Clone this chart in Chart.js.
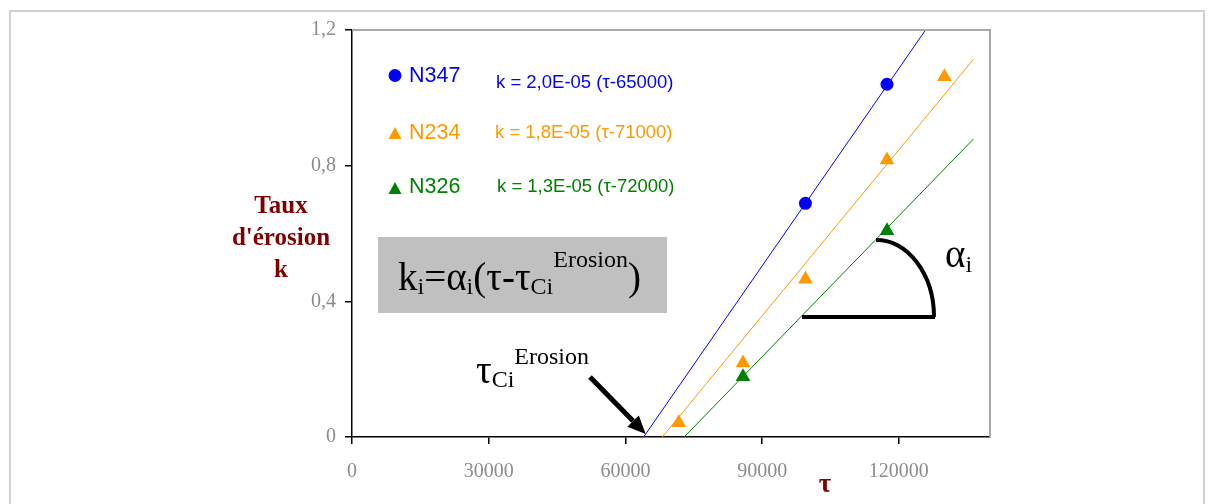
<!DOCTYPE html>
<html>
<head>
<meta charset="utf-8">
<script src="https://cdn.jsdelivr.net/npm/chart.js@4.4.0/dist/chart.umd.min.js"></script>
<style>
  html, body { margin: 0; padding: 0; background: #fff; }
  #wrap { position: relative; width: 1211px; height: 504px; overflow: hidden; }
  #frame {
    position: absolute; left: 9px; top: 10px; width: 1192px; height: 600px;
    border: 2px solid #d0d0d0;
  }
  #erosionChart { position: absolute; left: 0; top: 0; }
</style>
</head>
<body>
<div id="wrap">
  <div id="frame"></div>
  <canvas id="erosionChart" width="1211" height="504"></canvas>
</div>
<script>
// Axis ticks
const tauTicks = [0, 30000, 60000, 90000, 120000];
const kTicks = [0, 0.4, 0.8, 1.2];

// Measured points per sample (tau = shear stress, k = erosion rate)
const sampleNames = ['N347', 'N234', 'N326'];
const n347Tau = [99500, 117400];
const n347K = [0.689, 1.040];
const n234Tau = [71700, 85800, 99500, 117400, 130000];
const n234K = [0.042, 0.218, 0.465, 0.817, 1.062];
const n326Tau = [85800, 117400];
const n326K = [0.178, 0.608];

// Fitted lines, start and end
const n347FitTau = [64000, 125700];
const n347FitK = [0, 1.197];
const n234FitTau = [68100, 136400];
const n234FitK = [0, 1.114];
const n326FitTau = [72900, 136400];
const n326FitK = [0, 0.879];

const fitLabels = ['k = 2,0E-05 (\u03c4-65000)', 'k = 1,8E-05 (\u03c4-71000)', 'k = 1,3E-05 (\u03c4-72000)'];

const BLUE = '#0000ff';
const ORANGE = '#ff9900';
const GREEN = '#008000';
const DARKRED = '#800000';
const SERIF = "'Liberation Serif', 'Times New Roman', serif";
const SANS = "'Liberation Sans', Arial, sans-serif";

function toPoints(xs, ys) {
  return xs.map((x, i) => ({ x: x, y: ys[i] }));
}

function fitLine(xs, ys, color) {
  return {
    type: 'line',
    data: toPoints(xs, ys),
    borderColor: color,
    borderWidth: 1,
    pointRadius: 0,
    fill: false,
    order: 2
  };
}

function markers(label, xs, ys, color, style, radius) {
  return {
    type: 'scatter',
    label: label,
    data: toPoints(xs, ys),
    backgroundColor: color,
    borderColor: color,
    borderWidth: 0,
    pointStyle: style,
    pointRadius: radius,
    pointHoverRadius: radius,
    order: 1
  };
}

// draws a run of text pieces with their own size and vertical offset
function drawRich(ctx, x, baseline, parts, color) {
  ctx.fillStyle = color || '#000';
  ctx.textBaseline = 'alphabetic';
  ctx.textAlign = 'left';
  parts.forEach(p => {
    ctx.font = p.size + 'px ' + (p.family || SERIF);
    ctx.fillText(p.t, x, baseline + (p.dy || 0));
    x += ctx.measureText(p.t).width;
  });
}

function legendTriangle(ctx, cx, top, w, h, color) {
  ctx.fillStyle = color;
  ctx.beginPath();
  ctx.moveTo(cx, top);
  ctx.lineTo(cx + w / 2, top + h);
  ctx.lineTo(cx - w / 2, top + h);
  ctx.closePath();
  ctx.fill();
}

const decorations = {
  id: 'decorations',
  beforeDatasetsDraw(chart) {
    const ctx = chart.ctx;
    const a = chart.chartArea;
    ctx.save();
    // plot area frame (top and right)
    ctx.strokeStyle = '#a8a8a8';
    ctx.lineWidth = 2;
    ctx.beginPath();
    ctx.moveTo(a.left, a.top);
    ctx.lineTo(a.right, a.top);
    ctx.lineTo(a.right, a.bottom);
    ctx.stroke();

    // equation box
    ctx.fillStyle = '#c0c0c0';
    ctx.fillRect(378, 237, 289, 76);
    drawRich(ctx, 398, 290, [
      { t: 'k', size: 39 },
      { t: 'i', size: 24, dy: 4 },
      { t: '=', size: 39 },
      { t: '\u03b1', size: 39 },
      { t: 'i', size: 24, dy: 4 },
      { t: '(', size: 39 },
      { t: '\u03c4', size: 39 },
      { t: '-', size: 39 },
      { t: '\u03c4', size: 39 },
      { t: 'Ci', size: 24, dy: 4 },
      { t: 'Erosion', size: 24, dy: -23 },
      { t: ')', size: 39 }
    ]);
    ctx.restore();
  },
  afterDatasetsDraw(chart) {
    const ctx = chart.ctx;
    const xs = chart.scales.x;
    const ys = chart.scales.y;
    ctx.save();

    // legend
    ctx.fillStyle = BLUE;
    ctx.beginPath();
    ctx.arc(395, 75.5, 6.5, 0, Math.PI * 2);
    ctx.fill();
    legendTriangle(ctx, 395, 127, 13, 12, ORANGE);
    legendTriangle(ctx, 395, 182, 13, 12, GREEN);
    const colors = [BLUE, ORANGE, GREEN];
    const nameBase = [82, 139, 193];
    const eqBase = [88, 138, 192];
    const eqX = [496, 495, 497];
    sampleNames.forEach((n, i) => {
      drawRich(ctx, 409, nameBase[i], [{ t: n, size: 21.5, family: SANS }], colors[i]);
      drawRich(ctx, eqX[i], eqBase[i], [{ t: fitLabels[i], size: 18.5, family: SANS }], colors[i]);
    });

    // axis titles
    ctx.fillStyle = DARKRED;
    ctx.textAlign = 'center';
    ctx.textBaseline = 'alphabetic';
    ctx.font = 'bold 25px ' + SERIF;
    ctx.fillText('Taux', 281, 213);
    ctx.fillText("d'\u00e9rosion", 281, 245);
    ctx.fillText('k', 281, 277);
    ctx.font = 'bold 27px ' + SERIF;
    ctx.fillText('\u03c4', 825, 492);

    // critical stress label and arrow to the N347 intercept
    drawRich(ctx, 476, 383, [
      { t: '\u03c4', size: 39 },
      { t: 'Ci', size: 24, dy: 4 },
      { t: 'Erosion', size: 24, dy: -19 }
    ]);
    const tipX = xs.getPixelForValue(n347FitTau[0]) + 2;
    const tipY = ys.getPixelForValue(0) - 3;
    const sx = 590, sy = 377;
    const ang = Math.atan2(tipY - sy, tipX - sx);
    const hl = 18, hw = 8;
    const bx = tipX - hl * Math.cos(ang), by = tipY - hl * Math.sin(ang);
    ctx.strokeStyle = '#000';
    ctx.lineWidth = 5;
    ctx.beginPath();
    ctx.moveTo(sx, sy);
    ctx.lineTo(bx, by);
    ctx.stroke();
    ctx.fillStyle = '#000';
    ctx.beginPath();
    ctx.moveTo(tipX, tipY);
    ctx.lineTo(bx + hw * Math.sin(ang), by - hw * Math.cos(ang));
    ctx.lineTo(bx - hw * Math.sin(ang), by + hw * Math.cos(ang));
    ctx.closePath();
    ctx.fill();

    // slope angle mark
    ctx.lineWidth = 4;
    ctx.beginPath();
    ctx.moveTo(802, 317);
    ctx.lineTo(935, 317);
    ctx.stroke();
    ctx.beginPath();
    ctx.ellipse(876, 317, 58, 77, 0, -Math.PI / 2, 0);
    ctx.stroke();
    drawRich(ctx, 945, 267, [
      { t: '\u03b1', size: 39 },
      { t: 'i', size: 24, dy: 5 }
    ]);
    ctx.restore();
  }
};

const ctx = document.getElementById('erosionChart').getContext('2d');

const chart = new Chart(ctx, {
  type: 'scatter',
  data: {
    datasets: [
      fitLine(n347FitTau, n347FitK, BLUE),
      fitLine(n234FitTau, n234FitK, ORANGE),
      fitLine(n326FitTau, n326FitK, GREEN),
      markers(sampleNames[0], n347Tau, n347K, BLUE, 'circle', 6.5),
      markers(sampleNames[1], n234Tau, n234K, ORANGE, 'triangle', 8.5),
      markers(sampleNames[2], n326Tau, n326K, GREEN, 'triangle', 8.5)
    ]
  },
  options: {
    responsive: false,
    animation: false,
    layout: {
      padding: { top: 30, right: 221, bottom: 0, left: 0 }
    },
    plugins: {
      legend: { display: false },
      tooltip: { enabled: false }
    },
    scales: {
      x: {
        type: 'linear',
        min: 0,
        max: 140000,
        afterBuildTicks: s => { s.ticks = tauTicks.map(v => ({ value: v })); },
        afterFit: s => { s.height = 67; },
        border: { color: '#000', width: 1.5 },
        grid: {
          drawOnChartArea: false,
          drawTicks: true,
          tickLength: 7,
          color: '#000',
          tickColor: '#000',
          lineWidth: 1.5
        },
        ticks: {
          padding: 16,
          maxRotation: 0,
          color: '#8c8c8c',
          font: { family: SERIF, size: 20 },
          callback: v => String(v)
        }
      },
      y: {
        type: 'linear',
        min: 0,
        max: 1.2,
        afterBuildTicks: s => { s.ticks = kTicks.map(v => ({ value: v })); },
        afterFit: s => { s.width = 352; },
        border: { color: '#000', width: 1.5 },
        grid: {
          drawOnChartArea: false,
          drawTicks: true,
          tickLength: 7,
          color: '#000',
          tickColor: '#000',
          lineWidth: 1.5
        },
        ticks: {
          padding: 9,
          color: '#8c8c8c',
          font: { family: SERIF, size: 20 },
          callback: v => (v === 0 ? '0' : v.toFixed(1).replace('.', ','))
        }
      }
    }
  },
  plugins: [decorations]
});
</script>
</body>
</html>
